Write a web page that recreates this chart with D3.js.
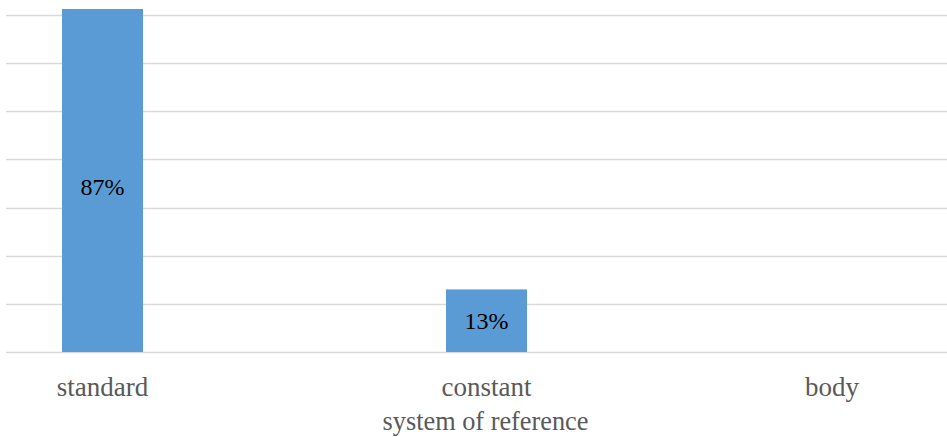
<!DOCTYPE html>
<html>
<head>
<meta charset="utf-8">
<script src="https://cdn.jsdelivr.net/npm/d3@7"></script>
<style>
  html, body { margin: 0; padding: 0; background: #ffffff; }
  svg { display: block; }
</style>
</head>
<body>
<svg id="chart" width="947" height="437"></svg>
<script>
// Share of each system of reference
const categories = ["standard", "constant", "body"];
const shares = [0.87, 0.13, 0];
const gridTicks = [0, 0.1, 0.2, 0.3, 0.4, 0.5, 0.6, 0.7];
const axisTitle = "system of reference";

const plotTop = 9, baseline = 352;
const gridLeft = 6, gridRight = 947;
const serif = "'Liberation Serif', 'Times New Roman', serif";

const svg = d3.select("#chart");

const x = d3.scaleBand()
  .domain(categories)
  .range([-89.5, 1062.5])
  .paddingInner(0.789)
  .paddingOuter(0.3945);

const y = d3.scaleLinear()
  .domain([0, 0.7])
  .range([baseline, 15]);

svg.append("defs").append("clipPath").attr("id", "plot-clip")
  .append("rect")
  .attr("x", gridLeft).attr("y", plotTop)
  .attr("width", gridRight - gridLeft).attr("height", baseline - plotTop);

// horizontal gridlines
svg.append("g")
  .selectAll("line")
  .data(gridTicks)
  .join("line")
  .attr("x1", gridLeft).attr("x2", gridRight)
  .attr("y1", d => Math.round(y(d)) + 0.5)
  .attr("y2", d => Math.round(y(d)) + 0.5)
  .attr("stroke", "#d9d9d9")
  .attr("stroke-width", 1.3);

const data = categories.map((c, i) => ({ cat: c, v: shares[i] }));

// bars, clipped at the top of the plot area
svg.append("g")
  .attr("clip-path", "url(#plot-clip)")
  .selectAll("rect")
  .data(data.filter(d => d.v > 0))
  .join("rect")
  .attr("x", d => x(d.cat))
  .attr("y", d => y(d.v))
  .attr("width", x.bandwidth())
  .attr("height", d => y(0) - y(d.v))
  .attr("fill", "#5b9bd5");

// value labels centred in the visible part of each bar
svg.append("g")
  .selectAll("text")
  .data(data.filter(d => d.v > 0))
  .join("text")
  .attr("x", d => x(d.cat) + x.bandwidth() / 2)
  .attr("y", d => {
    const top = Math.max(y(d.v), plotTop);
    const mid = (top + y(0)) / 2;
    return y(d.v) < plotTop ? mid + 6 : mid;
  })
  .attr("dy", "0.35em")
  .attr("text-anchor", "middle")
  .attr("font-family", serif)
  .attr("font-size", 24)
  .attr("fill", "#000000")
  .text(d => Math.round(d.v * 100) + "%");

// category labels (the last one is pulled in from the right edge)
const xAxis = d3.axisBottom(x).tickSize(0).tickPadding(0);
const gx = svg.append("g")
  .attr("transform", `translate(0,${baseline})`)
  .call(xAxis);
gx.select(".domain").remove();
gx.selectAll(".tick")
  .attr("transform", (d, i, n) => {
    const cx = x(d) + x.bandwidth() / 2 - (i === n.length - 1 ? 38.5 : 0);
    return `translate(${cx},0)`;
  });
gx.selectAll("text")
  .attr("y", 44)
  .attr("dy", 0)
  .attr("font-family", serif)
  .attr("font-size", 27)
  .attr("fill", "#595959");

// axis title
svg.append("text")
  .attr("x", 485.5)
  .attr("y", 430)
  .attr("text-anchor", "middle")
  .attr("font-family", serif)
  .attr("font-size", 26.3)
  .attr("fill", "#595959")
  .text(axisTitle);
</script>
</body>
</html>
